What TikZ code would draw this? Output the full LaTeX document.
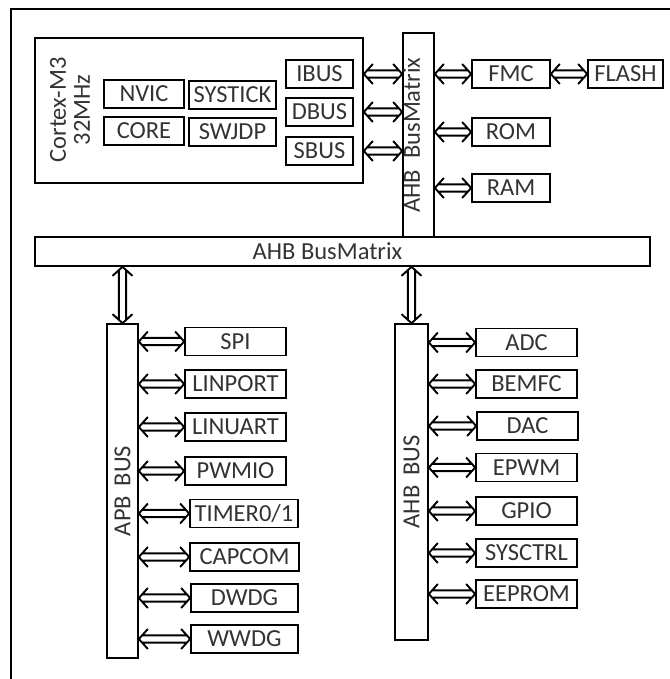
\documentclass[tikz,border=0pt]{standalone}
\usepackage{fontspec}
\setmainfont{Carlito}
\usetikzlibrary{calc}

\begin{document}
\begin{tikzpicture}[x=1pt,y=-1pt,
  blk/.style={draw=black, line width=1.7pt, inner sep=0pt, minimum height=28pt,
    text=black!80, font=\fontsize{24.5}{27}\selectfont},
  busbar/.style={blk, minimum width=31pt},
  dbl/.style={line width=1.9pt, to path={
    ($(\tikztostart)!9pt!(\tikztotarget)!10pt!90:(\tikztotarget)$) -- (\tikztostart)
      -- ($(\tikztostart)!9pt!(\tikztotarget)!10pt!-90:(\tikztotarget)$)
    ($(\tikztotarget)!9pt!(\tikztostart)!10pt!90:(\tikztostart)$) -- (\tikztotarget)
      -- ($(\tikztotarget)!9pt!(\tikztostart)!10pt!-90:(\tikztostart)$)
    ($(\tikztostart)!3.4pt!(\tikztotarget)!3.6pt!90:(\tikztotarget)$)
      -- ($(\tikztotarget)!3.4pt!(\tikztostart)!3.6pt!-90:(\tikztostart)$)
    ($(\tikztostart)!3.4pt!(\tikztotarget)!3.6pt!-90:(\tikztotarget)$)
      -- ($(\tikztotarget)!3.4pt!(\tikztostart)!3.6pt!90:(\tikztostart)$)}}]
\useasboundingbox (0,0) rectangle (669,679);
% outer frame, cut by the page
\draw[line width=1.5pt] (700,9) -- (11,9) -- (11,700);

% core
\node[blk, minimum width=328pt, minimum height=145pt] (cortex) at (199,110.5) {};
\node[rotate=90, align=center, text=black!80, font=\fontsize{24.5}{24}\selectfont] (cortextxt) at (70,110) {Cortex-M3\\32MHz};
\node[blk, minimum width=80pt] (nvic) at (144,94) {NVIC};
\node[blk, minimum width=87pt] (systick) at (232.5,95) {SYSTICK};
\node[blk, minimum width=80pt] (core) at (144,131) {CORE};
\node[blk, minimum width=87pt] (swjdp) at (232.5,132) {SWJDP};
\node[blk, minimum width=67pt] (ibus) at (319.5,74) {IBUS};
\node[blk, minimum width=67pt] (dbus) at (319.5,112) {DBUS};
\node[blk, minimum width=67pt] (sbus) at (319.5,151) {SBUS};

% bus matrix
\node[busbar, minimum height=204pt,
  label={[rotate=90, yshift=7pt, text=black!80, font=\fontsize{24.5}{27}\selectfont]center:AHB\hspace{0.45em}BusMatrix}] (mtx) at (418.5,135) {};
\node[blk, minimum width=615pt, minimum height=29pt,
  label={[xshift=-15pt, text=black!80, font=\fontsize{24.5}{27}\selectfont]center:AHB BusMatrix}] (ahbm) at (342.5,251.5) {};

\node[blk, minimum width=78pt] (fmc) at (511,74) {FMC};
\node[blk, minimum width=75pt] (flash) at (625.5,74) {FLASH};
\node[blk, minimum width=78pt] (rom) at (511,132) {ROM};
\node[blk, minimum width=78pt] (ram) at (511,188) {RAM};

\draw[dbl] (cortex.east |- ibus) to (mtx.west |- ibus);
\draw[dbl] (cortex.east |- dbus) to (mtx.west |- dbus);
\draw[dbl] (cortex.east |- sbus) to (mtx.west |- sbus);
\draw[dbl] (fmc.west -| mtx.east) to (fmc.west);
\draw[dbl] (fmc.east) to (flash.west);
\draw[dbl] (rom.west -| mtx.east) to (rom.west);
\draw[dbl] (ram.west -| mtx.east) to (ram.west);

% APB side
\node[busbar, minimum height=334pt,
  label={[rotate=90, text=black!80, font=\fontsize{24.5}{27}\selectfont]center:APB\hspace{0.4em}BUS}] (apb) at (122.5,491) {};
\node[blk, minimum width=101pt] (spi) at (235.5,341.5) {SPI};
\node[blk, minimum width=101pt] (linport) at (235.5,384) {LINPORT};
\node[blk, minimum width=101pt] (linuart) at (235.5,427) {LINUART};
\node[blk, minimum width=101pt] (pwmio) at (235.5,471) {PWMIO};
\node[blk, minimum width=108pt] (timer) at (244,513.5) {TIMER0/1};
\node[blk, minimum width=109pt] (capcom) at (244.5,557) {CAPCOM};
\node[blk, minimum width=107pt] (dwdg) at (244.5,598) {DWDG};
\node[blk, minimum width=107pt] (wwdg) at (244.5,639) {WWDG};

\draw[dbl] (apb.north) to (apb.north |- ahbm.south);
\draw[dbl] (spi.west -| apb.east) to (spi.west);
\draw[dbl] (linport.west -| apb.east) to (linport.west);
\draw[dbl] (linuart.west -| apb.east) to (linuart.west);
\draw[dbl] (pwmio.west -| apb.east) to (pwmio.west);
\draw[dbl] (timer.west -| apb.east) to (timer.west);
\draw[dbl] (capcom.west -| apb.east) to (capcom.west);
\draw[dbl] (dwdg.west -| apb.east) to (dwdg.west);
\draw[dbl] (wwdg.west -| apb.east) to (wwdg.west);

% AHB side
\node[busbar, minimum width=33pt, minimum height=316pt,
  label={[rotate=90, text=black!80, font=\fontsize{24.5}{27}\selectfont]center:AHB\hspace{0.4em}BUS}] (ahb) at (411.5,482) {};
\node[blk, minimum width=101pt] (adc) at (526.5,342.5) {ADC};
\node[blk, minimum width=101pt] (bemfc) at (526.5,384) {BEMFC};
\node[blk, minimum width=101pt] (dac) at (527.5,426) {DAC};
\node[blk, minimum width=101pt] (epwm) at (526.5,467.5) {EPWM};
\node[blk, minimum width=101pt] (gpio) at (526.5,511) {GPIO};
\node[blk, minimum width=101pt] (sysctrl) at (526.5,553) {SYSCTRL};
\node[blk, minimum width=101pt] (eeprom) at (526.5,594) {EEPROM};

\draw[dbl] (ahb.north) to (ahb.north |- ahbm.south);
\draw[dbl] (adc.west -| ahb.east) to (adc.west);
\draw[dbl] (bemfc.west -| ahb.east) to (bemfc.west);
\draw[dbl] (dac.west -| ahb.east) to (dac.west);
\draw[dbl] (epwm.west -| ahb.east) to (epwm.west);
\draw[dbl] (gpio.west -| ahb.east) to (gpio.west);
\draw[dbl] (sysctrl.west -| ahb.east) to (sysctrl.west);
\draw[dbl] (eeprom.west -| ahb.east) to (eeprom.west);
\end{tikzpicture}
\end{document}
